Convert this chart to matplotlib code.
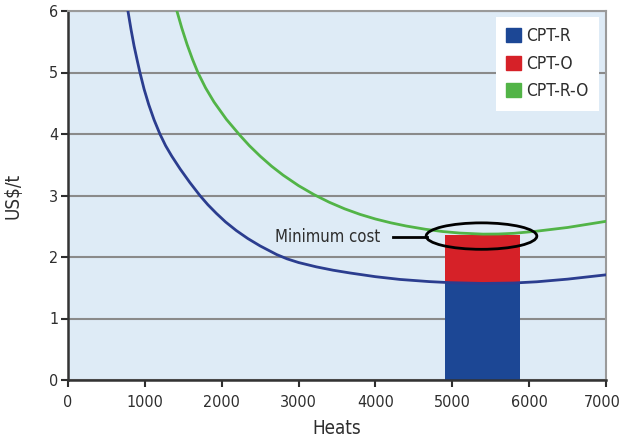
import matplotlib
matplotlib.use("Agg")
import matplotlib.pyplot as plt
import matplotlib.font_manager as fm
from matplotlib.patches import Ellipse, Patch
from matplotlib.transforms import ScaledTranslation

# pick a narrow sans face if one is installed
fonts = fm.fontManager.ttflist
if any(f.name == 'Liberation Sans Narrow' for f in fonts):
    plt.rcParams['font.family'] = ['Liberation Sans Narrow', 'DejaVu Sans']
elif any(f.name == 'DejaVu Sans' and f.stretch == 'condensed' for f in fonts):
    plt.rcParams['font.family'] = ['DejaVu Sans']
    plt.rcParams['font.stretch'] = 'condensed'
else:
    plt.rcParams['font.family'] = ['Roboto', 'DejaVu Sans']

# cost curves (US$/t against number of heats)
heats_r = [780, 820, 860, 900, 936, 990, 1050, 1120, 1196, 1270, 1350, 1460, 1586,
           1716, 1820, 1930, 2050, 2190, 2340, 2500, 2715, 2850, 3000, 3230, 3450,
           3670, 4000, 4320, 4700, 4970, 5400, 5800, 6100, 6500, 7000]
cost_r = [6.00, 5.70, 5.43, 5.20, 5.00, 4.73, 4.48, 4.23, 4.00, 3.81, 3.64, 3.43, 3.21,
          3.00, 2.85, 2.71, 2.57, 2.43, 2.30, 2.18, 2.04, 1.97, 1.91, 1.84, 1.785,
          1.74, 1.68, 1.635, 1.60, 1.583, 1.570, 1.577, 1.597, 1.64, 1.71]

heats_ro = [1417, 1480, 1550, 1620, 1690, 1790, 1900, 2060, 2236, 2360, 2500, 2650,
            2800, 3000, 3200, 3400, 3600, 3800, 4000, 4200, 4400, 4650, 4876, 5100,
            5400, 5600, 5800, 6100, 6500, 7000]
cost_ro = [6.00, 5.725, 5.454, 5.214, 5.00, 4.75, 4.52, 4.24, 3.98, 3.81, 3.64, 3.475,
           3.33, 3.16, 3.015, 2.89, 2.783, 2.693, 2.618, 2.556, 2.504, 2.451, 2.414, 2.389,
           2.372, 2.374, 2.385, 2.42, 2.48, 2.58]

# optimum window, stacked costs
opt_start = 4900
opt_width = 980
opt_r = 1.58
opt_o = 0.78

x_ticks = [0, 1000, 2000, 3000, 4000, 5000, 6000, 7000]
y_ticks = [0, 1, 2, 3, 4, 5, 6]

blue_line = '#2b3d8f'
blue_bar = '#1c4795'
red = '#d62128'
green = '#52b447'
txt = '#2e2e2e'

fig = plt.figure(figsize=(6.22, 4.43), dpi=100)
ax = fig.add_axes([68 / 622, 1 - 380 / 443, 538 / 622, 369 / 443])
ax.set_facecolor('#deebf6')

ax.bar(opt_start, opt_r, width=opt_width, align='edge', color=blue_bar, zorder=2)
ax.bar(opt_start, opt_o, width=opt_width, bottom=opt_r, align='edge', color=red, zorder=2)

ax.plot(heats_r, cost_r, color=blue_line, lw=2, zorder=3, solid_joinstyle='round')
ax.plot(heats_ro, cost_ro, color=green, lw=2, zorder=3, solid_joinstyle='round')

ax.add_patch(Ellipse((5380, 2.34), 1440, 0.43, fill=False, ec='black', lw=2, zorder=4))
ax.plot([4230, 4665], [2.32, 2.32], color='black', lw=2, zorder=4)
ax.text(4060, 2.33, 'Minimum cost', ha='right', va='center', fontsize=12, color=txt)

ax.set_xlim(0, 7000)
ax.set_ylim(0, 6)
ax.set_xticks(x_ticks)
ax.set_yticks(y_ticks)
ax.tick_params(labelsize=11.5, labelcolor=txt, color=txt, length=5, width=1.5)
ax.tick_params(axis='x', pad=6)
ax.tick_params(axis='y', pad=2)
ax.yaxis.grid(True, color='#8a8a8a', lw=1.5, zorder=1)
ax.set_axisbelow(True)

# nudge the last x label so it stays inside the canvas
last = ax.get_xticklabels()[-1]
last.set_transform(last.get_transform() + ScaledTranslation(-4 / 100, 0, fig.dpi_scale_trans))

for side in ['top', 'right']:
    ax.spines[side].set_color('#9a9a9a')
    ax.spines[side].set_linewidth(1.5)
for side in ['left', 'bottom']:
    ax.spines[side].set_color('#333333')
    ax.spines[side].set_linewidth(1.8)

ax.set_xlabel('Heats', fontsize=13.5, color=txt, labelpad=6)
ax.set_ylabel('US$/t', fontsize=13.5, color=txt, labelpad=19)

handles = [Patch(color=blue_bar, label='CPT-R'),
           Patch(color=red, label='CPT-O'),
           Patch(color=green, label='CPT-R-O')]
leg = ax.legend(handles=handles, loc='upper right', bbox_to_anchor=(0.987, 0.984),
                borderaxespad=0, fontsize=12.5, frameon=True, fancybox=False,
                handlelength=0.85, handleheight=0.85, handletextpad=0.3,
                labelspacing=0.55, borderpad=0.6)
leg.get_frame().set_facecolor('white')
leg.get_frame().set_edgecolor('none')
leg.get_frame().set_alpha(1)
for t in leg.get_texts():
    t.set_color(txt)

fig.savefig('out.png', dpi=100)
